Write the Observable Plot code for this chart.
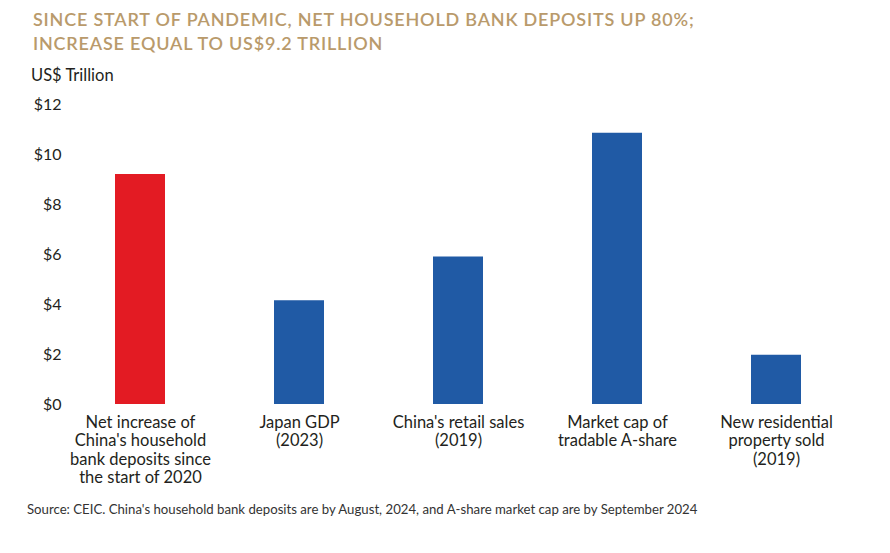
<!DOCTYPE html>
<html>
<head>
<meta charset="utf-8">
<script src="https://cdn.jsdelivr.net/npm/d3@7"></script>
<script src="https://cdn.jsdelivr.net/npm/@observablehq/plot@0.6"></script>
<style>
  body { margin: 0; background: #fff; font-family: Lato, "Open Sans", sans-serif; }
  #wrap { position: relative; width: 890px; height: 553px; }
  #title { position: absolute; left: 33px; top: 7px; color: #B99A6B; font-size: 18px; font-weight: 600; line-height: 24px; letter-spacing: 0.8px; }
  #unit { position: absolute; left: 31px; top: 65px; color: #231F20; font-size: 16.5px; }
  #chart { position: absolute; left: 0; top: 90px; }
  #source { position: absolute; left: 27px; top: 501px; color: #333; font-size: 13.2px; }
</style>
</head>
<body>
<div id="wrap">
  <div id="title">SINCE START OF PANDEMIC, NET HOUSEHOLD BANK DEPOSITS UP 80%;<br>INCREASE EQUAL TO US$9.2 TRILLION</div>
  <div id="unit">US$ Trillion</div>
  <div id="chart"></div>
  <div id="source">Source: CEIC. China's household bank deposits are by August, 2024, and A-share market cap are by September 2024</div>
</div>
<script>
const categories = [
  "Net increase of\nChina's household\nbank deposits since\nthe start of 2020",
  "Japan GDP\n(2023)",
  "China's retail sales\n(2019)",
  "Market cap of\ntradable A-share",
  "New residential\nproperty sold\n(2019)"
];
const values = [9.2, 4.15, 5.9, 10.85, 1.97];
const highlight = [true, false, false, false, false];
const yTicks = [0, 2, 4, 6, 8, 10, 12];

const data = categories.map((c, i) => ({ name: c, value: values[i], hl: highlight[i] }));

const chart = Plot.plot({
  width: 890,
  height: 410,
  marginTop: 14,
  marginBottom: 96,
  marginLeft: 68,
  marginRight: 42,
  style: { fontFamily: "Lato, 'Open Sans', sans-serif", color: "#231F20", background: "transparent" },
  x: { domain: categories, padding: 0.687, paddingOuter: 0.288, label: null },
  y: { domain: [0, 12], label: null },
  marks: [
    Plot.barY(data, { x: "name", y: "value", fill: d => d.hl ? "#E31B23" : "#205AA5" }),
    Plot.axisY({ ticks: yTicks, tickFormat: d => "$" + d, tickSize: 0, tickPadding: 7, fontSize: 16, label: null }),
    Plot.axisX({ tickSize: 0, tickPadding: 10, fontSize: 16.5, lineHeight: 1.12, label: null })
  ]
});
document.getElementById("chart").appendChild(chart);
</script>
</body>
</html>
